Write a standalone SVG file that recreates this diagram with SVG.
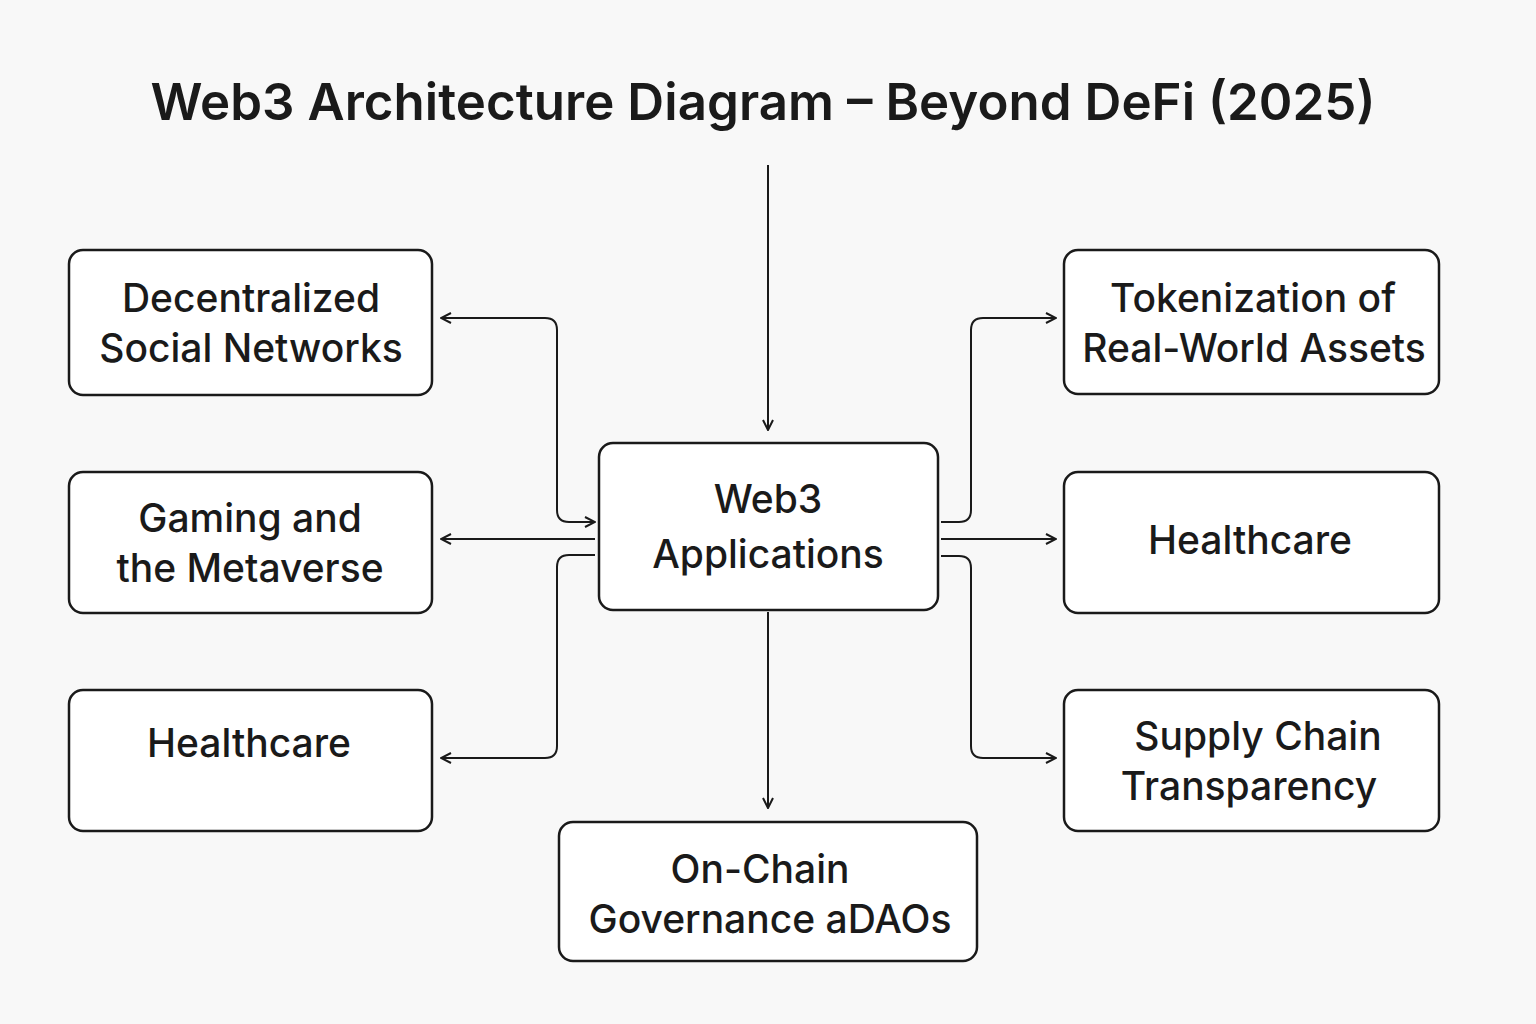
<svg xmlns="http://www.w3.org/2000/svg" width="1536" height="1024" viewBox="0 0 1536 1024">
<style>
.box{fill:#fff;stroke:#1a1a1a;stroke-width:2.5}
.t{font-family:Inter,"Liberation Sans",sans-serif;font-size:39px;font-weight:500;fill:#1a1a1a;text-anchor:middle}
.c{fill:none;stroke:#1a1a1a;stroke-width:2}
</style>
<defs>
<marker id="a" viewBox="0 0 12 12" refX="11" refY="6" markerWidth="12" markerHeight="12" markerUnits="userSpaceOnUse" orient="auto-start-reverse">
<path d="M1,1 L11,6 L1,11" fill="none" stroke="#1a1a1a" stroke-width="2"/>
</marker>
</defs>
<rect width="1536" height="1024" fill="#f8f8f8"/>
<text x="763" y="120" font-family="Inter,'Liberation Sans',sans-serif" font-size="51" font-weight="600" fill="#1a1a1a" text-anchor="middle" textLength="1225" lengthAdjust="spacing">Web3 Architecture Diagram – Beyond DeFi (2025)</text>
<g id="connectors">
<path class="c" d="M768,165 V430" marker-end="url(#a)"/>
<path class="c" d="M441,318 H545 Q557,318 557,330 V510 Q557,522 569,522 H595" marker-start="url(#a)" marker-end="url(#a)"/>
<path class="c" d="M595,539 H441" marker-end="url(#a)"/>
<path class="c" d="M595,555 H569 Q557,555 557,567 V746 Q557,758 545,758 H441" marker-end="url(#a)"/>
<path class="c" d="M941,522 H959 Q971,522 971,510 V330 Q971,318 983,318 H1056" marker-end="url(#a)"/>
<path class="c" d="M941,539 H1056" marker-end="url(#a)"/>
<path class="c" d="M941,556 H959 Q971,556 971,568 V746 Q971,758 983,758 H1056" marker-end="url(#a)"/>
<path class="c" d="M768,612 V808" marker-end="url(#a)"/>
</g>
<g id="center"><rect class="box" x="599" y="443" width="339" height="167" rx="14"/>
<text class="t" x="768" y="513" font-size="45" font-weight="600">Web3</text><text class="t" x="768" y="568" font-size="45" font-weight="600">Applications</text></g>
<g id="social"><rect class="box" x="69" y="250" width="363" height="145" rx="14"/>
<text class="t" x="251" y="312">Decentralized</text><text class="t" x="251" y="362">Social Networks</text></g>
<g id="gaming"><rect class="box" x="69" y="472" width="363" height="141" rx="14"/>
<text class="t" x="250" y="532">Gaming and</text><text class="t" x="250" y="582">the Metaverse</text></g>
<g id="health-left"><rect class="box" x="69" y="690" width="363" height="141" rx="14"/>
<text class="t" x="249" y="757">Healthcare</text></g>
<g id="tokenization"><rect class="box" x="1064" y="250" width="375" height="144" rx="14"/>
<text class="t" x="1253" y="312">Tokenization of</text><text class="t" x="1254" y="362">Real-World Assets</text></g>
<g id="health-right"><rect class="box" x="1064" y="472" width="375" height="141" rx="14"/>
<text class="t" x="1250" y="554">Healthcare</text></g>
<g id="supply"><rect class="box" x="1064" y="690" width="375" height="141" rx="14"/>
<text class="t" x="1258" y="750">Supply Chain</text><text class="t" x="1249" y="800">Transparency</text></g>
<g id="governance"><rect class="box" x="559" y="822" width="418" height="139" rx="14"/>
<text class="t" x="760" y="883">On-Chain</text><text class="t" x="770" y="933">Governance aDAOs</text></g>
</svg>
